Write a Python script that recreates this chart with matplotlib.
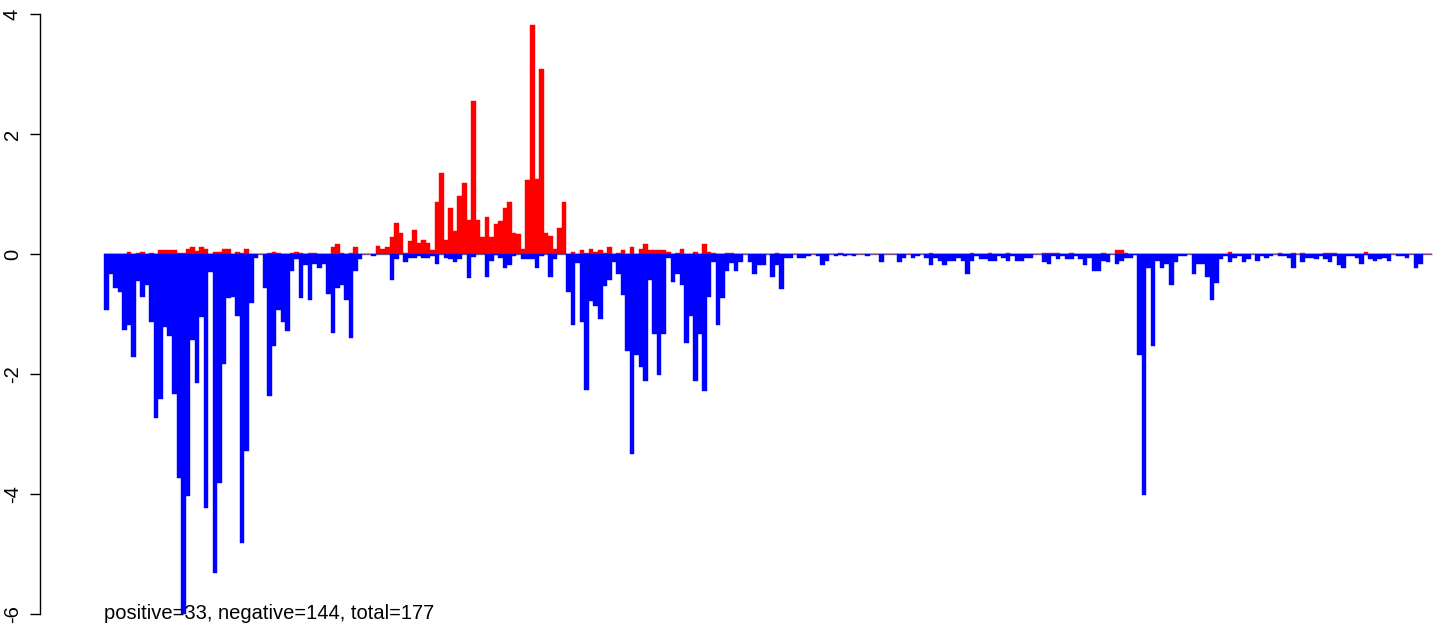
import numpy as np
import matplotlib
matplotlib.use("Agg")
import matplotlib.pyplot as plt

plt.rcParams['font.family'] = ['Liberation Sans', 'DejaVu Sans']

# positive part of each bin (red)
pos = [
    0, 0, 0, 0, 0, 0.03, 0, 0.02, 0.03, 0,
    0.01, 0, 0.07, 0.06, 0.06, 0.07, 0.02, 0.02, 0.08, 0.12,
    0.05, 0.12, 0.08, 0, 0.03, 0.03, 0.08, 0.08, 0, 0.03,
    0.02, 0.08, 0, 0, 0, 0, 0.02, 0.03, 0.02, 0,
    0, 0.02, 0.03, 0.02, 0, 0.02, 0.02, 0, 0, 0,
    0.12, 0.17, 0.02, 0, 0.02, 0.12, 0, 0, 0, 0,
    0.13, 0.08, 0.12, 0.28, 0.52, 0.35, 0.02, 0.22, 0.40, 0.18,
    0.23, 0.18, 0.07, 0.87, 1.35, 0.23, 0.77, 0.38, 0.97, 1.18,
    0.57, 2.55, 0.57, 0.29, 0.62, 0.29, 0.50, 0.55, 0.77, 0.87,
    0.35, 0.33, 0.08, 1.23, 3.82, 1.25, 3.08, 0.35, 0.30, 0.08,
    0.43, 0.87, 0, 0.03, 0, 0.07, 0.02, 0.08, 0.03, 0.07,
    0.02, 0.12, 0, 0.02, 0.07, 0, 0.12, 0, 0.08, 0.17,
    0.07, 0.07, 0.07, 0.07, 0.03, 0, 0.02, 0.08, 0, 0,
    0.03, 0, 0.17, 0.03, 0.02, 0, 0, 0.02, 0.02, 0,
    0, 0, 0, 0, 0, 0, 0, 0, 0.02, 0,
    0, 0, 0, 0, 0, 0, 0, 0, 0, 0,
    0, 0, 0.02, 0, 0, 0, 0, 0, 0, 0,
    0, 0, 0, 0, 0, 0, 0, 0, 0, 0,
    0, 0, 0.02, 0, 0, 0, 0, 0, 0, 0,
    0, 0.02, 0, 0, 0, 0.02, 0, 0, 0, 0.02,
    0, 0, 0, 0, 0, 0, 0, 0.02, 0.02, 0.02,
    0.02, 0, 0, 0.02, 0, 0, 0, 0, 0, 0,
    0.02, 0, 0, 0.07, 0.07, 0.02, 0, 0, 0, 0,
    0, 0, 0, 0, 0, 0, 0, 0, 0, 0,
    0, 0, 0, 0, 0, 0, 0, 0, 0.03, 0,
    0, 0, 0, 0, 0, 0, 0, 0, 0, 0.02,
    0, 0, 0.02, 0, 0.02, 0, 0, 0, 0, 0.02,
    0.02, 0.02, 0, 0, 0, 0, 0, 0, 0.03, 0,
    0, 0, 0, 0, 0, 0, 0, 0, 0, 0,
    0, 0, 0,
]

# negative part of each bin (blue)
neg = [
    -0.94, -0.34, -0.56, -0.64, -1.26, -1.18, -1.71, -0.45, -0.71, -0.52,
    -1.14, -2.74, -2.42, -1.21, -1.36, -2.33, -3.74, -6.0, -4.03, -1.44,
    -2.15, -1.05, -4.23, -0.30, -5.32, -3.81, -1.84, -0.73, -0.71, -1.04,
    -4.82, -3.29, -0.81, -0.06, 0, -0.56, -2.36, -1.53, -0.93, -1.13,
    -1.29, -0.29, -0.08, -0.73, -0.19, -0.76, -0.16, -0.24, -0.16, -0.66,
    -1.31, -0.56, -0.51, -0.76, -1.40, -0.29, -0.08, 0, 0, -0.03,
    0, 0, 0, -0.44, -0.08, 0, -0.13, -0.07, -0.07, -0.03,
    -0.07, -0.07, -0.03, -0.17, 0, -0.07, -0.08, -0.13, -0.08, 0,
    -0.40, -0.05, 0, 0, -0.38, -0.11, -0.02, -0.06, -0.23, -0.18,
    -0.03, 0, -0.08, -0.08, -0.08, -0.24, -0.03, 0, -0.39, -0.08,
    0, 0, -0.64, -1.19, -0.15, -1.13, -2.27, -0.78, -0.86, -1.08,
    -0.54, -0.44, -0.13, -0.34, -0.68, -1.61, -3.33, -1.68, -1.89, -2.11,
    -0.44, -1.34, -2.01, -1.34, -0.07, -0.46, -0.33, -0.51, -1.48, -1.03,
    -2.11, -1.34, -2.28, -0.71, -0.13, -1.18, -0.73, -0.29, -0.15, -0.28,
    -0.13, 0, -0.13, -0.33, -0.19, -0.19, 0, -0.39, -0.19, -0.59,
    -0.06, -0.06, 0, -0.06, -0.06, -0.03, 0, -0.03, -0.18, -0.11,
    0, -0.03, -0.02, -0.03, -0.02, -0.03, 0, 0, -0.03, 0,
    0, -0.13, 0, 0, 0, -0.13, -0.06, 0, -0.06, -0.03,
    0, -0.06, -0.19, -0.06, -0.11, -0.19, -0.11, -0.11, -0.06, -0.11,
    -0.34, -0.11, -0.03, -0.08, -0.08, -0.11, -0.11, -0.03, -0.06, -0.11,
    -0.03, -0.11, -0.11, -0.06, -0.06, 0, 0, -0.13, -0.16, -0.03,
    -0.08, -0.03, -0.08, -0.08, -0.03, -0.08, -0.18, -0.06, -0.29, -0.29,
    -0.11, -0.13, 0, -0.16, -0.11, -0.06, -0.06, -0.02, -1.68, -4.01,
    -0.24, -1.53, -0.11, -0.24, -0.16, -0.51, -0.13, -0.03, -0.03, 0,
    -0.34, -0.16, -0.16, -0.39, -0.76, -0.49, -0.08, -0.03, -0.13, -0.06,
    -0.03, -0.13, -0.08, 0, -0.11, -0.03, -0.06, -0.03, 0, -0.03,
    -0.03, -0.06, -0.23, 0, -0.13, -0.06, -0.06, -0.08, -0.03, -0.08,
    -0.13, -0.03, -0.19, -0.24, -0.03, -0.03, -0.06, -0.16, -0.02, -0.08,
    -0.11, -0.08, -0.06, -0.11, 0, -0.03, -0.03, -0.06, 0, -0.23,
    -0.16, 0, 0,
]

yticks = [-6, -4, -2, 0, 2, 4]
title = "K562_Early_mean_compartment"
note = "positive=33, negative=144, total=177"

W, H = 1441, 628
fig = plt.figure(figsize=(W / 100, H / 100), dpi=100)
ax = fig.add_axes([40 / W, 0, 1 - 40 / W, 1])

n = len(pos)
x = np.arange(n)
bw = 4.532  # pixels per bar
ax.set_xlim((40 - 104) / bw, (W - 104) / bw)
ax.set_ylim(-6 - 14 / 60, 4 + 14 / 60)

ax.hlines(0, 0, n, color='#808080', lw=1, zorder=1)
ax.bar(x, pos, width=1, align='edge', color='red', edgecolor='red', lw=0.3, zorder=2)
ax.bar(x, neg, width=1, align='edge', color='blue', edgecolor='blue', lw=0.3, zorder=2)

for s in ['top', 'right', 'bottom']:
    ax.spines[s].set_visible(False)
ax.spines['left'].set_bounds(-6, 4)
ax.spines['left'].set_linewidth(1)
ax.set_xticks([])
ax.set_yticks(yticks)
ax.set_yticklabels([str(t) for t in yticks], rotation=90, va='center', fontsize=14.5)
ax.tick_params(axis='y', length=7, width=1, pad=6)

fig.text(104 / W, 1 - 619 / H, note, fontsize=14.5, va='baseline', ha='left')
# the main title sits above the top edge, only its lowest pixels show
fig.text(504 / W, 1 + 5 / H, title, fontsize=17, fontweight='bold', va='baseline', ha='left')

fig.savefig('out.png', dpi=100)
